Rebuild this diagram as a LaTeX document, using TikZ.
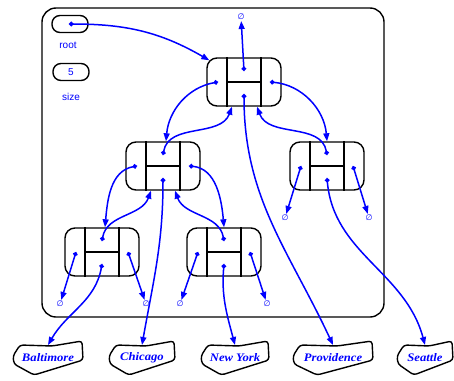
\documentclass[tikz,border=0pt]{standalone}
\usepackage{fontspec}
\setmainfont{Liberation Sans}
\newfontfamily\elemfont{Liberation Serif}
\newfontfamily\symfont{DejaVu Sans}
\usetikzlibrary{arrows.meta}

\tikzset{
  position/.style={draw, line width=1.4pt, rounded corners=10pt,
    minimum width=74pt, minimum height=48pt, inner sep=0pt},
  ptr/.style={blue, line width=1.5pt,
    {Circle[length=4.5pt]}-{Triangle[length=8pt,width=6pt]}},
  nil/.style={blue, font=\symfont\footnotesize, inner sep=1pt},
  elemtext/.style={blue, font=\elemfont\bfseries\itshape\fontsize{11.5}{12}\selectfont,
    inner sep=0pt, xscale=1.1},
  field/.style={draw, line width=1.4pt, rounded corners=8pt,
    minimum width=36pt, minimum height=17pt, inner sep=0pt},
  fieldname/.style={blue, font=\normalsize, inner sep=0pt}
}

% one tree position: parent (top), element (bottom), left and right child
\newcommand{\posnode}[3]{%
  \node[position] (#1) at (#2,#3) {};
  \draw[line width=1.2pt]
    ([xshift=-17pt]#1.north) -- ([xshift=-17pt]#1.south)
    ([xshift=17pt]#1.north) -- ([xshift=17pt]#1.south)
    ([xshift=-17pt]#1.center) -- ([xshift=17pt]#1.center);
  \coordinate (#1-l) at ([xshift=-26pt]#1.center);
  \coordinate (#1-r) at ([xshift=26pt]#1.center);
  \coordinate (#1-t) at ([yshift=11pt]#1.center);
  \coordinate (#1-b) at ([yshift=-12pt]#1.center);
}

% element box: name, x, half width, text
\newcommand{\elem}[4]{%
  \node[elemtext] (#1) at (#2,358) {#4};
  \draw[line width=1.4pt, rounded corners=3pt]
    ([shift={(-#3+7,-13)}]#1.center) -- ([shift={(4,-12)}]#1.center)
    -- ([shift={(#3-1,-17)}]#1.center) -- ([shift={(#3,2)}]#1.center)
    -- ([shift={(-0.4*#3,17)}]#1.center) -- ([shift={(-#3+1,6)}]#1.center)
    -- ([shift={(-#3,-2)}]#1.center) -- cycle;
}

\begin{document}
\begin{tikzpicture}[x=1pt,y=-1pt]
\useasboundingbox (0,0) rectangle (454,380);

% the tree object
\draw[line width=1.4pt, rounded corners=14pt] (42,8) rectangle (384,317);
\node[field] (root) at (70,24) {};
\coordinate (root-p) at (69,24);
\node[fieldname] (rootname) at (68,45) {root};
\node[field] (size) at (71,72) {};
\node[fieldname] (sizeval) at (71,72) {5};
\node[fieldname] (sizename) at (71,97) {size};

% positions
\posnode{A}{244}{82}
\posnode{B}{163}{166}
\posnode{C}{327}{166}
\posnode{D}{102}{252}
\posnode{E}{224}{252}

% null references
\node[nil] (nilA) at (241,17) {∅};
\node[nil] (nilC1) at (285,218) {∅};
\node[nil] (nilC2) at (369,218) {∅};
\node[nil] (nilD1) at (60,304) {∅};
\node[nil] (nilD2) at (146,304) {∅};
\node[nil] (nilE1) at (180,304) {∅};
\node[nil] (nilE2) at (267,304) {∅};

% elements
\elem{balt}{48}{35}{Baltimore}
\elem{chic}{142}{33}{Chicago}
\elem{nyork}{235}{34}{New York}
\elem{prov}{333}{40}{Providence}
\elem{seat}{425}{28}{Seattle}

% references
\draw[ptr] (root-p) to[out=0,in=150] ([xshift=3pt,yshift=-3pt]A.north west);
\draw[ptr] (A-t) -- (nilA);
\draw[ptr] (A-l) to[out=190,in=85] ([xshift=3pt]B.north);
\draw[ptr] (A-r) to[out=-5,in=95] (C.north);
\draw[ptr] (B-t) to[out=80,in=-110] ([xshift=-12pt]A.south);
\draw[ptr] (C-t) to[out=100,in=-70] ([xshift=13pt]A.south);
\draw[ptr] (A-b) to[out=-90,in=115] ([yshift=13pt]prov.center);

\draw[ptr] (B-l) to[out=190,in=85] ([xshift=3pt]D.north);
\draw[ptr] (B-r) to[out=-5,in=95] (E.north);
\draw[ptr] (D-t) to[out=80,in=-110] ([xshift=-12pt]B.south);
\draw[ptr] (E-t) to[out=100,in=-70] ([xshift=12pt]B.south);
\draw[ptr] (B-b) to[out=-90,in=80] ([yshift=13pt]chic.center);

\draw[ptr] (C-l) -- (nilC1);
\draw[ptr] (C-r) -- (nilC2);
\draw[ptr] (C-b) to[out=-85,in=105] ([yshift=13pt]seat.center);

\draw[ptr] (D-l) -- (nilD1);
\draw[ptr] (D-r) -- (nilD2);
\draw[ptr] (D-b) to[out=-100,in=60] ([yshift=13pt]balt.center);

\draw[ptr] (E-l) -- (nilE1);
\draw[ptr] (E-r) -- (nilE2);
\draw[ptr] (E-b) to[out=-95,in=105] ([yshift=13pt]nyork.center);
\end{tikzpicture}
\end{document}
